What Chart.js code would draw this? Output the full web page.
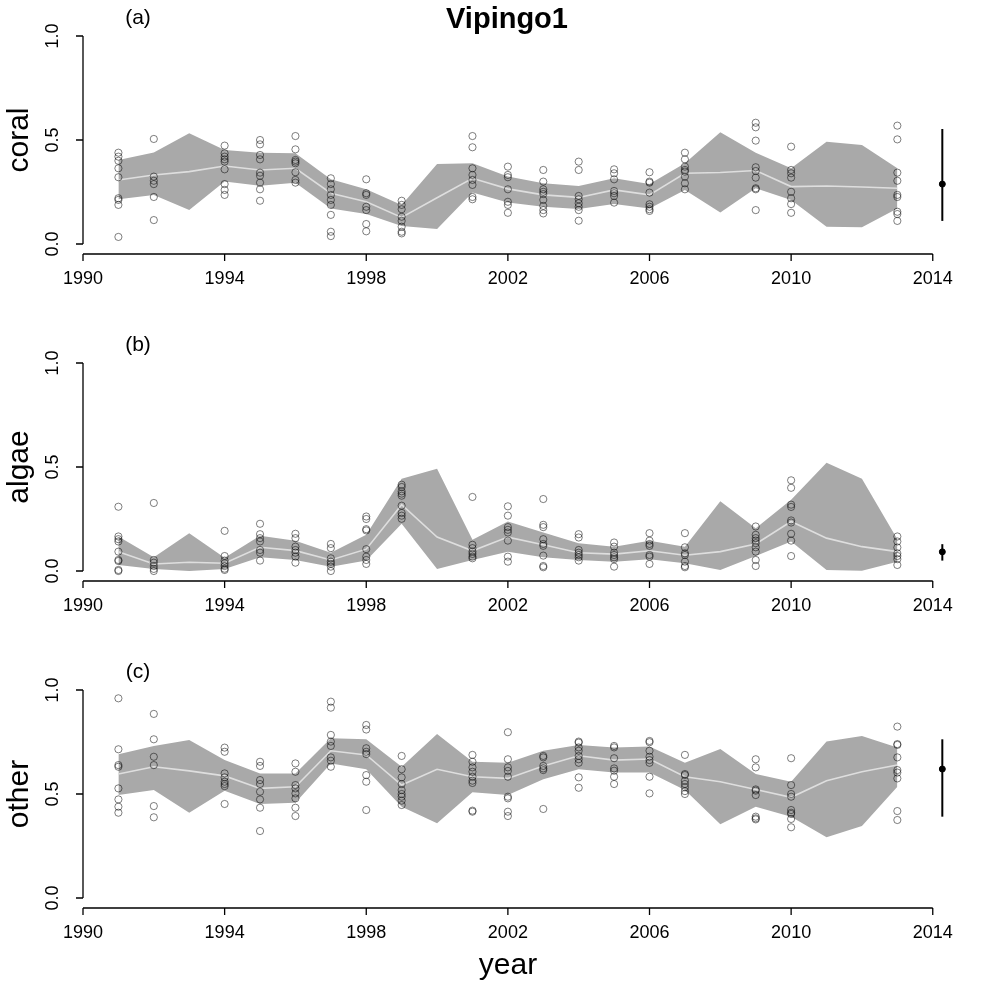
<!DOCTYPE html>
<html>
<head>
<meta charset="utf-8">
<script src="https://cdn.jsdelivr.net/npm/chart.js@4.4.0/dist/chart.umd.min.js"></script>
<style>
  body { margin: 0; background: #fff; }
  #wrap { position: relative; width: 981px; height: 981px; }
  canvas { position: absolute; left: 0; }
</style>
</head>
<body>
<div id="wrap">
  <canvas id="coral" width="981" height="327" style="top:0px"></canvas>
  <canvas id="algae" width="981" height="327" style="top:327px"></canvas>
  <canvas id="other" width="981" height="327" style="top:654px"></canvas>
</div>
<script>
// years with survey points
const sampleYears = [1991, 1992, 1994, 1995, 1996, 1997, 1998, 1999, 2001, 2002, 2003, 2004, 2005, 2006, 2007, 2009, 2010, 2013];
// years of the fitted band / mean line
const bandYears = [1991, 1992, 1993, 1994, 1995, 1996, 1997, 1998, 1999, 2000, 2001, 2002, 2003, 2004, 2005, 2006, 2007, 2008, 2009, 2010, 2011, 2012, 2013];
const xTicks = [1990, 1994, 1998, 2002, 2006, 2010, 2014];
const yTicks = [0, 0.5, 1];
const yTickLabels = ["0.0", "0.5", "1.0"];
const errX = 2014.27;

// coral
const coralPts = [
  [0.439, 0.42, 0.40, 0.364, 0.321, 0.22, 0.212, 0.188, 0.034],
  [0.505, 0.324, 0.304, 0.288, 0.226, 0.115],
  [0.473, 0.436, 0.42, 0.407, 0.396, 0.359, 0.288, 0.26, 0.236],
  [0.5, 0.479, 0.428, 0.407, 0.343, 0.328, 0.295, 0.263, 0.208],
  [0.519, 0.455, 0.404, 0.396, 0.388, 0.345, 0.308, 0.295],
  [0.316, 0.288, 0.263, 0.236, 0.212, 0.188, 0.14, 0.059, 0.038],
  [0.311, 0.244, 0.236, 0.179, 0.163, 0.096, 0.061],
  [0.208, 0.188, 0.167, 0.131, 0.111, 0.083, 0.059, 0.051],
  [0.519, 0.465, 0.364, 0.332, 0.308, 0.284, 0.226, 0.215],
  [0.372, 0.332, 0.321, 0.263, 0.203, 0.188, 0.15],
  [0.356, 0.30, 0.263, 0.251, 0.24, 0.212, 0.183, 0.163, 0.147],
  [0.396, 0.356, 0.231, 0.215, 0.196, 0.179, 0.163, 0.112],
  [0.359, 0.34, 0.311, 0.255, 0.244, 0.231, 0.199],
  [0.345, 0.30, 0.295, 0.247, 0.191, 0.179, 0.167, 0.159],
  [0.439, 0.407, 0.372, 0.356, 0.348, 0.324, 0.292, 0.263],
  [0.583, 0.561, 0.497, 0.369, 0.351, 0.319, 0.268, 0.263, 0.163],
  [0.468, 0.356, 0.34, 0.319, 0.251, 0.22, 0.192, 0.15],
  [0.569, 0.503, 0.343, 0.304, 0.236, 0.226, 0.155, 0.144, 0.111]
];
const coralHi = [0.404, 0.44, 0.532, 0.452, 0.439, 0.436, 0.311, 0.263, 0.188, 0.385, 0.388, 0.325, 0.292, 0.279, 0.316, 0.288, 0.388, 0.537, 0.439, 0.364, 0.492, 0.476, 0.364];
const coralLo = [0.215, 0.236, 0.163, 0.30, 0.28, 0.295, 0.171, 0.144, 0.087, 0.072, 0.247, 0.20, 0.179, 0.168, 0.192, 0.171, 0.26, 0.152, 0.268, 0.212, 0.083, 0.08, 0.171];
const coralMid = [0.308, 0.332, 0.348, 0.375, 0.356, 0.364, 0.244, 0.203, 0.128, 0.222, 0.316, 0.265, 0.236, 0.224, 0.26, 0.236, 0.34, 0.344, 0.353, 0.276, 0.279, 0.274, 0.268];
const coralErr = [0.111, 0.288, 0.553];

// algae
const algaePts = [
  [0.309, 0.166, 0.153, 0.142, 0.093, 0.053, 0.048, 0.005, 0.0],
  [0.327, 0.053, 0.04, 0.024, 0.01, 0.0],
  [0.193, 0.072, 0.05, 0.037, 0.024, 0.011, 0.005],
  [0.227, 0.177, 0.158, 0.142, 0.101, 0.088, 0.05],
  [0.179, 0.158, 0.117, 0.101, 0.088, 0.069, 0.04],
  [0.13, 0.11, 0.061, 0.045, 0.034, 0.021, 0.0],
  [0.262, 0.25, 0.201, 0.195, 0.105, 0.069, 0.053, 0.034],
  [0.415, 0.404, 0.383, 0.372, 0.362, 0.314, 0.279, 0.266, 0.251],
  [0.356, 0.126, 0.11, 0.093, 0.082, 0.069, 0.061],
  [0.311, 0.266, 0.211, 0.198, 0.185, 0.146, 0.069, 0.045],
  [0.346, 0.222, 0.211, 0.153, 0.13, 0.121, 0.074, 0.024, 0.018],
  [0.177, 0.161, 0.101, 0.088, 0.077, 0.066, 0.05],
  [0.137, 0.117, 0.088, 0.077, 0.066, 0.057, 0.021],
  [0.182, 0.146, 0.13, 0.121, 0.077, 0.069, 0.034],
  [0.182, 0.114, 0.085, 0.077, 0.045, 0.024, 0.018],
  [0.214, 0.174, 0.158, 0.146, 0.134, 0.114, 0.093, 0.053, 0.024],
  [0.436, 0.40, 0.319, 0.308, 0.243, 0.233, 0.179, 0.146, 0.072],
  [0.166, 0.142, 0.113, 0.085, 0.072, 0.057, 0.029]
];
const algaeHi = [0.166, 0.066, 0.182, 0.064, 0.169, 0.146, 0.088, 0.174, 0.443, 0.491, 0.15, 0.238, 0.185, 0.134, 0.117, 0.145, 0.117, 0.335, 0.206, 0.343, 0.52, 0.443, 0.153];
const algaeLo = [0.029, 0.01, 0.0, 0.01, 0.066, 0.053, 0.021, 0.05, 0.227, 0.01, 0.053, 0.093, 0.066, 0.053, 0.045, 0.057, 0.037, 0.005, 0.072, 0.142, 0.005, 0.001, 0.045];
const algaeMid = [0.093, 0.034, 0.042, 0.037, 0.114, 0.098, 0.053, 0.105, 0.319, 0.163, 0.097, 0.163, 0.126, 0.088, 0.081, 0.097, 0.076, 0.093, 0.13, 0.238, 0.158, 0.117, 0.093];
const algaeErr = [0.05, 0.092, 0.129];

// other
const otherPts = [
  [0.96, 0.715, 0.639, 0.631, 0.527, 0.474, 0.439, 0.41],
  [0.885, 0.763, 0.679, 0.639, 0.442, 0.388],
  [0.723, 0.703, 0.599, 0.58, 0.559, 0.548, 0.538, 0.452],
  [0.655, 0.635, 0.567, 0.548, 0.511, 0.474, 0.434, 0.322],
  [0.647, 0.607, 0.543, 0.527, 0.503, 0.479, 0.434, 0.394],
  [0.944, 0.915, 0.784, 0.752, 0.731, 0.676, 0.66, 0.631],
  [0.832, 0.81, 0.72, 0.703, 0.692, 0.591, 0.559, 0.423],
  [0.683, 0.619, 0.58, 0.548, 0.519, 0.50, 0.487, 0.468, 0.447],
  [0.688, 0.655, 0.628, 0.607, 0.583, 0.564, 0.553, 0.42, 0.415],
  [0.797, 0.667, 0.628, 0.611, 0.583, 0.487, 0.479, 0.415, 0.394],
  [0.683, 0.676, 0.635, 0.623, 0.615, 0.428],
  [0.752, 0.747, 0.724, 0.708, 0.683, 0.667, 0.65, 0.58, 0.53],
  [0.731, 0.724, 0.672, 0.623, 0.612, 0.583, 0.548],
  [0.755, 0.749, 0.708, 0.679, 0.663, 0.65, 0.583, 0.503],
  [0.688, 0.596, 0.591, 0.564, 0.548, 0.532, 0.514, 0.50],
  [0.667, 0.628, 0.522, 0.516, 0.495, 0.391, 0.383, 0.378],
  [0.672, 0.543, 0.50, 0.487, 0.423, 0.41, 0.404, 0.38, 0.34],
  [0.824, 0.74, 0.736, 0.676, 0.615, 0.603, 0.575, 0.418, 0.375]
];
const otherHi = [0.691, 0.731, 0.76, 0.663, 0.599, 0.599, 0.768, 0.763, 0.631, 0.788, 0.655, 0.65, 0.708, 0.736, 0.724, 0.728, 0.65, 0.716, 0.596, 0.559, 0.752, 0.779, 0.724];
const otherLo = [0.495, 0.519, 0.41, 0.516, 0.452, 0.458, 0.647, 0.619, 0.439, 0.359, 0.508, 0.495, 0.571, 0.619, 0.603, 0.603, 0.519, 0.354, 0.439, 0.391, 0.292, 0.346, 0.535];
const otherMid = [0.596, 0.631, 0.611, 0.587, 0.527, 0.535, 0.708, 0.688, 0.543, 0.619, 0.583, 0.575, 0.635, 0.684, 0.663, 0.668, 0.583, 0.559, 0.522, 0.484, 0.564, 0.607, 0.639];
const otherErr = [0.391, 0.62, 0.763];

const FONT = '"Liberation Sans", Arial, Helvetica, sans-serif';

// R style axes + labels
const rAxes = {
  id: "rAxes",
  afterDraw(chart) {
    const o = chart.options.plugins.rAxes;
    const ctx = chart.ctx;
    const xs = chart.scales.x, ys = chart.scales.y;
    const left = xs.getPixelForValue(1990);
    const ay = ys.getPixelForValue(0) + 10;
    ctx.save();
    ctx.strokeStyle = "#000";
    ctx.fillStyle = "#000";
    ctx.lineWidth = 1.3;
    ctx.beginPath();
    ctx.moveTo(left, ys.getPixelForValue(0));
    ctx.lineTo(left, ys.getPixelForValue(1));
    yTicks.forEach(v => {
      const p = ys.getPixelForValue(v);
      ctx.moveTo(left, p);
      ctx.lineTo(left - 7, p);
    });
    ctx.moveTo(xs.getPixelForValue(1990), ay);
    ctx.lineTo(xs.getPixelForValue(2014), ay);
    xTicks.forEach(v => {
      const p = xs.getPixelForValue(v);
      ctx.moveTo(p, ay);
      ctx.lineTo(p, ay + 7);
    });
    ctx.stroke();

    ctx.font = "18px " + FONT;
    ctx.textAlign = "center";
    ctx.textBaseline = "middle";
    xTicks.forEach(v => ctx.fillText(String(v), xs.getPixelForValue(v), ay + 25));
    yTicks.forEach((v, i) => {
      ctx.save();
      ctx.translate(left - 30, ys.getPixelForValue(v));
      ctx.rotate(-Math.PI / 2);
      ctx.fillText(yTickLabels[i], 0, 0);
      ctx.restore();
    });

    ctx.font = "30px " + FONT;
    ctx.textBaseline = "alphabetic";
    ctx.save();
    ctx.translate(28, ys.getPixelForValue(0.5));
    ctx.rotate(-Math.PI / 2);
    ctx.fillText(o.ylab, 0, 0);
    ctx.restore();

    ctx.font = "21px " + FONT;
    ctx.textBaseline = "middle";
    ctx.fillText(o.tag, 138, 18);

    if (o.title) {
      ctx.font = "bold 29px " + FONT;
      ctx.textBaseline = "alphabetic";
      ctx.fillText(o.title, 507, 28);
    }
    if (o.xlab) {
      ctx.font = "30px " + FONT;
      ctx.textBaseline = "alphabetic";
      ctx.fillText(o.xlab, 508, ay + 66);
    }
    ctx.restore();
  }
};

function makePanel(id, pts, hi, lo, mid, err, labels) {
  const ptData = [];
  sampleYears.forEach((yr, i) => pts[i].forEach(v => ptData.push({ x: yr, y: v })));
  const hiData = bandYears.map((yr, i) => ({ x: yr, y: hi[i] }));
  const loData = bandYears.map((yr, i) => ({ x: yr, y: lo[i] }));
  const midData = bandYears.map((yr, i) => ({ x: yr, y: mid[i] }));

  new Chart(document.getElementById(id), {
    type: "scatter",
    data: {
      datasets: [
        { data: ptData, pointRadius: 3.6, borderWidth: 1, borderColor: "rgba(0,0,0,0.5)",
          backgroundColor: "rgba(0,0,0,0)", order: 0, clip: false },
        { type: "line", data: [{ x: errX, y: err[0] }, { x: errX, y: err[2] }], borderColor: "#000",
          borderWidth: 2, pointRadius: 0, order: 0, clip: false },
        { data: [{ x: errX, y: err[1] }], pointRadius: 3, backgroundColor: "#000", borderColor: "#000",
          order: 0, clip: false },
        { type: "line", data: midData, borderColor: "#dedede", borderWidth: 1.6, pointRadius: 0, order: 1 },
        { type: "line", data: hiData, borderWidth: 0, borderColor: "rgba(0,0,0,0)", pointRadius: 0,
          fill: "+1", backgroundColor: "#a9a9a9", order: 2 },
        { type: "line", data: loData, borderWidth: 0, borderColor: "rgba(0,0,0,0)", pointRadius: 0, order: 3 }
      ]
    },
    options: {
      responsive: false,
      animation: false,
      events: [],
      layout: { padding: { left: 83, right: 27, top: 36, bottom: 83 } },
      scales: {
        x: { type: "linear", min: 1990, max: 2014.6, display: false },
        y: { min: 0, max: 1, display: false }
      },
      plugins: {
        legend: { display: false },
        tooltip: { enabled: false },
        rAxes: labels
      }
    },
    plugins: [rAxes]
  });
}

makePanel("coral", coralPts, coralHi, coralLo, coralMid, coralErr, { ylab: "coral", tag: "(a)", title: "Vipingo1" });
makePanel("algae", algaePts, algaeHi, algaeLo, algaeMid, algaeErr, { ylab: "algae", tag: "(b)" });
makePanel("other", otherPts, otherHi, otherLo, otherMid, otherErr, { ylab: "other", tag: "(c)", xlab: "year" });
</script>
</body>
</html>
